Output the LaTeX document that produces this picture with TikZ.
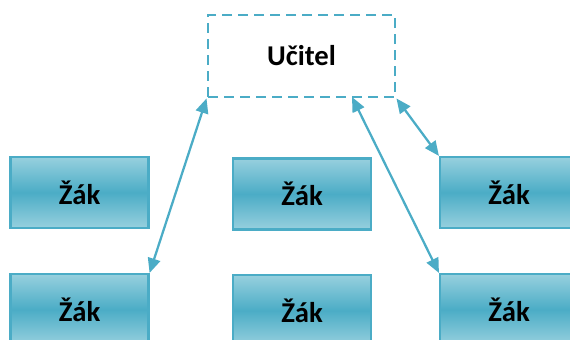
\documentclass[tikz,border=0pt]{standalone}
\usepackage{fontspec}
\setmainfont{Carlito}
\usetikzlibrary{arrows.meta}
\definecolor{accent}{HTML}{4BACC6}
\definecolor{accentlight}{HTML}{97D0DE}
\tikzset{
  pupil/.style={draw=accent, line width=1.6pt, top color=accentlight,
    bottom color=accentlight, middle color=accent, minimum width=138*0.75pt,
    minimum height=71*0.75pt, inner sep=0pt, font=\fontsize{21.5}{25}\selectfont\bfseries},
  teacher/.style={draw=accent, line width=2.2pt, dash pattern=on 7.5pt off 4.5pt,
    minimum width=187*0.75pt, minimum height=82*0.75pt, inner sep=0pt,
    font=\fontsize{21.5}{25}\selectfont\bfseries},
  link/.style={draw=accent, line width=1.7pt,
    {Triangle[length=11pt,width=9.5pt]}-{Triangle[length=11pt,width=9.5pt]}}
}
\begin{document}
\begin{tikzpicture}[x=0.75pt,y=-0.75pt]
\useasboundingbox (0,0) rectangle (570,339);
\node[teacher] (t) at (301.5,56) {Učitel};
\node[pupil] (a1) at (79.5,192.5) {Žák};
\node[pupil] (a2) at (79.5,309.5) {Žák};
\node[pupil] (b1) at (302,194) {Žák};
\node[pupil] (b2) at (302,310.5) {Žák};
\node[pupil] (c1) at (509,192.5) {Žák};
\node[pupil] (c2) at (509,309.5) {Žák};
\coordinate (tm) at (352,97);
\draw[link] (t.south west) -- (a2.north east);
\draw[link] (t.south east) -- (c1.north west);
\draw[link] (tm) -- (c2.north west);
\end{tikzpicture}
\end{document}
